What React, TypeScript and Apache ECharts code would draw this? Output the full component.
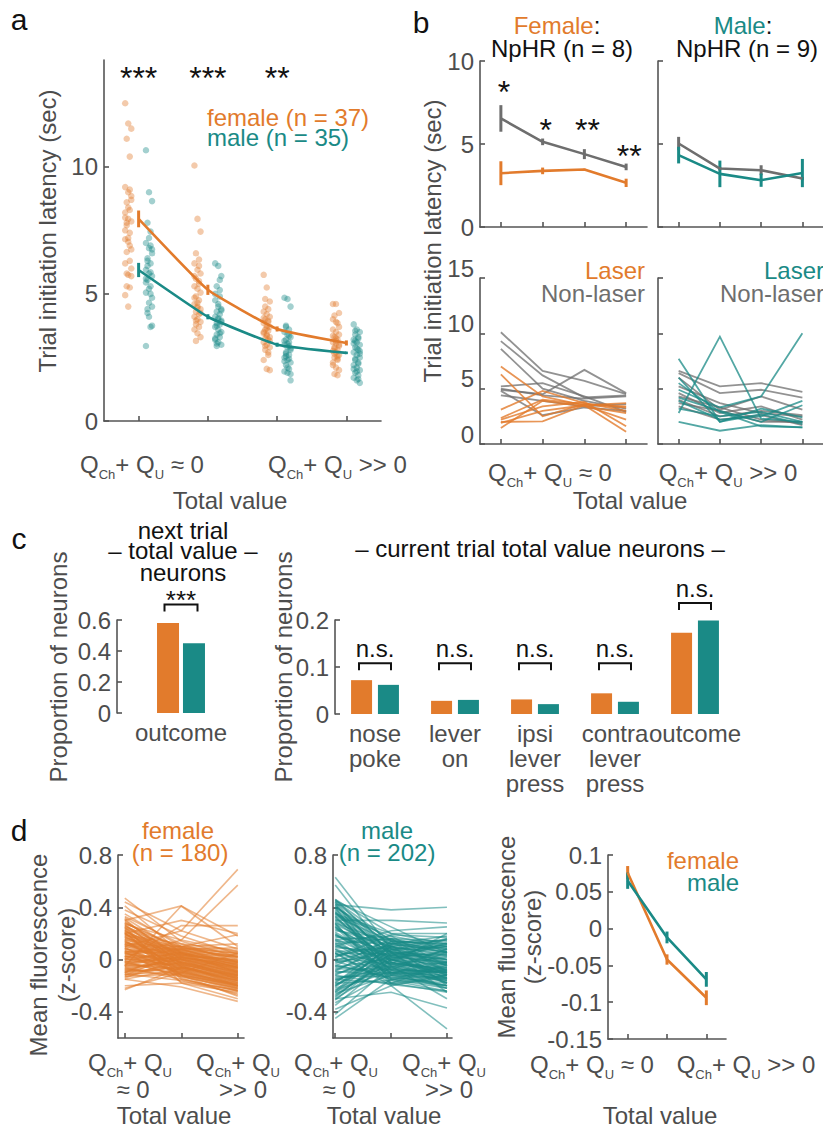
import React, { useEffect, useRef } from 'react';
import * as echarts from 'echarts';

const FONT = '"Liberation Sans", Arial, Helvetica, sans-serif';
const ORANGE = '#E27B2C';
const TEAL = '#1A8A86';
const GRAY = '#6E6E6E';
const AXIS = '#555555';
const TXT = '#4D4D4D';
const BLACK = '#111111';

// ---------- Panel a ----------
const aCats = [1, 2, 3, 4];
const aFemaleMean = [7.95, 5.16, 3.62, 3.07];
const aFemaleSem = [0.33, 0.2, 0.1, 0.1];
const aMaleMean = [5.94, 4.1, 3.0, 2.68];
const aMaleSem = [0.28, 0.1, 0.08, 0.05];
const aSig = ['***', '***', '**'];
const aSigLevel = [13.75, 13.75, 13.75];
const aFemaleDots = [
  [12.5, 11.7, 11.5, 11.1, 10.4, 9.2, 9.0, 8.85, 8.6, 8.3, 8.2, 7.95, 7.85, 7.8, 7.4, 7.15, 7.05, 6.75, 6.65, 6.3, 6.2, 5.75, 5.7, 5.3, 5.25, 4.95, 4.5, 8.7, 7.7, 6.9, 8.0, 7.2, 6.0, 5.8, 9.1, 7.5, 8.4],
  [10.05, 7.95, 7.45, 6.6, 6.35, 6.2, 5.95, 5.8, 5.6, 5.5, 5.3, 5.2, 5.05, 4.9, 4.75, 4.6, 4.5, 4.4, 4.3, 4.2, 4.1, 4.0, 3.9, 3.8, 3.7, 3.6, 3.45, 3.3, 3.15, 5.4, 4.85, 4.65, 4.25, 3.95, 6.1, 5.7, 4.45],
  [5.75, 5.25, 4.7, 4.5, 4.4, 4.3, 4.2, 4.1, 4.0, 3.9, 3.85, 3.75, 3.7, 3.6, 3.55, 3.5, 3.4, 3.3, 3.25, 3.2, 3.1, 3.0, 2.9, 2.8, 2.6, 2.4, 2.05, 2.0, 4.8, 3.95, 3.45, 3.35, 3.15, 2.95, 2.7, 4.05, 3.65],
  [4.6, 4.6, 4.25, 4.15, 3.85, 3.6, 3.5, 3.4, 3.3, 3.2, 3.1, 3.05, 3.0, 2.9, 2.8, 2.75, 2.7, 2.6, 2.5, 2.4, 2.3, 2.1, 2.0, 1.85, 1.8, 3.35, 3.15, 2.95, 2.65, 2.55, 2.2, 3.9, 3.7, 2.85, 2.45, 4.0, 3.25],
];
const aMaleDots = [
  [10.65, 9.0, 8.65, 7.8, 7.45, 7.0, 6.8, 6.75, 6.4, 6.2, 5.95, 5.8, 5.7, 5.55, 5.3, 5.05, 4.65, 4.5, 4.25, 3.7, 2.95, 7.2, 6.6, 6.1, 5.85, 5.45, 5.2, 4.85, 4.4, 6.9, 5.6, 4.1, 3.75, 6.3, 5.0],
  [6.2, 6.1, 5.7, 5.3, 5.15, 4.75, 4.5, 4.4, 4.3, 4.2, 4.1, 4.0, 3.95, 3.85, 3.8, 3.7, 3.6, 3.5, 3.4, 3.3, 3.2, 3.1, 3.0, 2.95, 5.55, 5.0, 4.6, 4.35, 3.75, 3.45, 3.25, 4.05, 3.9, 3.05, 4.9],
  [4.85, 4.8, 4.5, 3.75, 3.6, 3.5, 3.4, 3.3, 3.2, 3.1, 3.0, 2.9, 2.8, 2.7, 2.6, 2.5, 2.4, 2.3, 2.2, 2.05, 1.95, 1.9, 1.6, 3.7, 3.35, 3.15, 3.05, 2.85, 2.65, 2.45, 2.35, 2.1, 1.85, 2.55, 2.95],
  [3.8, 3.6, 3.5, 3.4, 3.3, 3.2, 3.1, 3.0, 2.9, 2.8, 2.7, 2.6, 2.5, 2.4, 2.3, 2.2, 2.1, 2.0, 1.9, 1.8, 1.7, 1.6, 1.5, 3.55, 3.25, 3.05, 2.85, 2.65, 2.45, 2.25, 2.05, 1.95, 2.75, 3.15, 1.65],
];

// ---------- Panel b ----------
const bCats = [1, 2, 3, 4];
const bFemaleNonLaser = [6.54, 5.13, 4.39, 3.62];
const bFemaleNonLaserSem = [0.8, 0.2, 0.3, 0.2];
const bFemaleLaser = [3.24, 3.38, 3.46, 2.66];
const bFemaleLaserSem = [0.72, 0.2, 0.05, 0.25];
const bMaleNonLaser = [5.03, 3.52, 3.42, 2.92];
const bMaleNonLaserSem = [0.4, 0.1, 0.3, 0.1];
const bMaleLaser = [4.33, 3.2, 2.82, 3.25];
const bMaleLaserSem = [0.5, 0.8, 0.4, 0.85];
const bSig = ['*', '*', '**', '**'];
const bSigLevel = [8.55, 6.27, 6.27, 4.7];
const bFemaleNonLaserInd = [
  [10.1, 6.6, 5.7, 4.5],
  [9.3, 6.2, 4.2, 4.4],
  [8.6, 5.0, 3.9, 3.2],
  [5.2, 5.5, 4.3, 2.9],
  [4.9, 4.5, 6.7, 4.6],
  [5.0, 4.4, 4.1, 4.3],
  [4.4, 3.9, 3.4, 3.6],
  [4.8, 2.6, 3.3, 3.0],
];
const bFemaleLaserInd = [
  [7.0, 4.3, 3.5, 2.2],
  [6.3, 2.5, 3.6, 3.4],
  [3.1, 4.8, 3.7, 3.0],
  [2.35, 4.0, 3.6, 3.3],
  [2.2, 3.4, 3.8, 1.6],
  [2.0, 2.05, 3.5, 1.1],
  [1.9, 3.0, 3.5, 3.7],
  [1.45, 3.9, 3.4, 2.8],
];
const bMaleNonLaserInd = [
  [6.6, 5.2, 5.5, 4.7],
  [6.4, 4.6, 4.9, 4.2],
  [6.0, 3.1, 4.3, 3.1],
  [5.2, 3.7, 2.8, 2.5],
  [4.6, 2.8, 3.4, 2.2],
  [4.3, 3.3, 2.2, 1.9],
  [4.0, 2.5, 3.0, 2.6],
  [3.7, 3.0, 2.0, 2.0],
  [3.4, 2.2, 2.6, 1.7],
];
const bMaleLaserInd = [
  [7.7, 2.0, 3.2, 2.4],
  [2.8, 9.7, 2.3, 2.0],
  [4.9, 3.3, 4.3, 10.0],
  [2.0, 1.2, 1.7, 1.5],
  [3.9, 2.2, 2.5, 3.9],
  [5.5, 2.9, 1.6, 1.5],
  [4.2, 3.0, 2.0, 3.5],
  [3.2, 2.5, 2.9, 2.0],
  [6.0, 2.0, 2.7, 1.8],
];

// ---------- Panel c ----------
const cNextCats = ['outcome'];
const cNextFemale = [0.58];
const cNextMale = [0.45];
const cNextSig = ['***'];
const cNextBracket = [0.7];
const cCurCats = ['nose\npoke', 'lever\non', 'ipsi\nlever\npress', 'contra\nlever\npress', 'outcome'];
const cCurFemale = [0.072, 0.028, 0.031, 0.044, 0.173];
const cCurMale = [0.062, 0.03, 0.021, 0.026, 0.199];
const cCurSig = ['n.s.', 'n.s.', 'n.s.', 'n.s.', 'n.s.'];
const cCurBracket = [0.108, 0.108, 0.108, 0.108, 0.236];

// ---------- Panel d ----------
const dCats = [1, 2, 3];
const dFemaleMean = [0.076, -0.042, -0.094];
const dFemaleSem = [0.009, 0.007, 0.01];
const dMaleMean = [0.065, -0.012, -0.069];
const dMaleSem = [0.011, 0.008, 0.01];
const dFemaleInd = [
  [0.47, 0.14, 0.02], [0.44, 0.22, 0.08], [0.41, 0.05, -0.06], [0.38, 0.18, 0.04], [0.35, 0.1, 0.19],
  [0.1, 0.22, 0.69], [0.02, 0.15, 0.57], [0.3, 0.41, 0.1], [-0.05, 0.41, 0.18], [0.0, 0.26, 0.26],
  [0.2, 0.3, 0.2], [-0.23, -0.06, -0.12], [-0.2, -0.18, -0.3], [-0.15, -0.21, -0.32], [0.2, -0.14, -0.27],
  [0.25, -0.18, -0.25], [-0.22, -0.1, 0.05],
  [0.32, 0.05, -0.1], [0.3, 0.0, -0.15], [0.28, 0.08, -0.05], [0.26, -0.02, -0.12], [0.25, 0.1, 0.0],
  [0.24, 0.03, -0.08], [0.22, -0.05, -0.18], [0.21, 0.06, -0.02], [0.2, 0.0, -0.1], [0.18, -0.08, -0.2],
  [0.17, 0.04, -0.06], [0.16, -0.03, -0.14], [0.15, 0.07, 0.03], [0.14, -0.1, -0.22], [0.13, 0.02, -0.09],
  [0.12, -0.06, -0.16], [0.11, 0.05, -0.04], [0.1, -0.02, -0.11], [0.09, -0.12, -0.24], [0.08, 0.03, -0.07],
  [0.07, -0.04, -0.13], [0.06, 0.08, 0.05], [0.05, -0.07, -0.18], [0.04, 0.0, -0.1], [0.03, -0.1, -0.2],
  [0.02, 0.04, -0.03], [0.01, -0.05, -0.15], [0.0, -0.01, -0.08], [-0.01, -0.13, -0.22], [-0.02, 0.02, -0.05],
  [-0.03, -0.08, -0.17], [-0.04, 0.06, 0.02], [-0.05, -0.03, -0.12], [-0.06, -0.15, -0.24], [-0.07, 0.0, -0.06],
  [-0.08, -0.09, -0.19], [-0.09, 0.03, 0.0], [-0.1, -0.06, -0.14], [-0.11, -0.16, -0.26], [-0.12, -0.02, -0.09],
  [-0.13, -0.11, -0.21], [-0.14, 0.01, -0.03], [-0.15, -0.07, -0.16], [0.19, 0.12, 0.07], [0.27, 0.15, 0.06],
  [0.23, -0.12, -0.28], [0.12, 0.1, 0.12], [-0.1, 0.08, 0.09], [0.33, 0.12, -0.02], [0.06, -0.17, -0.23],
  [0.29, 0.02, -0.07], [0.27, -0.06, -0.16], [0.24, 0.07, -0.01], [0.22, 0.01, -0.11], [0.2, -0.09, -0.21],
  [0.19, 0.05, -0.04], [0.17, -0.01, -0.12], [0.16, 0.09, 0.01], [0.14, -0.05, -0.17], [0.13, 0.06, -0.06],
  [0.12, -0.02, -0.13], [0.1, 0.04, -0.02], [0.09, -0.08, -0.19], [0.08, 0.01, -0.09], [0.07, -0.11, -0.23],
  [0.06, 0.05, -0.01], [0.05, -0.03, -0.11], [0.04, 0.07, 0.03], [0.03, -0.06, -0.15], [0.02, 0.0, -0.07],
  [0.01, -0.09, -0.2], [0.0, 0.05, -0.02], [-0.01, -0.04, -0.13], [-0.02, -0.12, -0.2], [-0.03, 0.02, -0.06],
  [-0.04, -0.07, -0.16], [-0.05, 0.04, -0.01], [-0.06, -0.02, -0.1], [-0.07, -0.13, -0.22], [-0.08, 0.01, -0.05],
  [-0.09, -0.06, -0.14], [-0.1, 0.02, -0.04], [-0.11, -0.1, -0.18], [-0.12, 0.05, 0.02], [-0.13, -0.04, -0.12],
  [0.28, 0.09, 0.02], [0.26, 0.04, -0.09], [0.23, -0.03, -0.14], [0.18, 0.1, 0.04], [0.15, -0.12, -0.19],
  [0.11, 0.08, -0.03], [0.05, 0.1, 0.06], [-0.02, 0.09, 0.05], [0.31, -0.04, -0.2], [0.21, -0.15, -0.24],
];
const dMaleInd = [
  [0.63, 0.08, -0.02], [0.57, 0.02, -0.1], [0.46, 0.2, 0.12], [0.45, 0.25, 0.05], [0.42, 0.38, 0.4],
  [0.3, 0.3, 0.28], [0.1, 0.22, 0.25], [-0.45, -0.15, -0.2], [-0.42, -0.05, -0.3], [-0.38, -0.2, -0.12],
  [-0.3, -0.25, -0.37], [0.05, -0.2, -0.53], [-0.2, 0.1, 0.15], [0.4, -0.18, -0.25],
  [0.44, 0.1, -0.05], [0.42, 0.0, -0.12], [0.4, 0.15, 0.05], [0.38, -0.05, -0.15], [0.36, 0.08, 0.0],
  [0.34, 0.18, 0.1], [0.32, -0.02, -0.08], [0.3, 0.05, -0.18], [0.28, 0.12, 0.15], [0.26, -0.08, -0.1],
  [0.24, 0.02, -0.02], [0.22, 0.16, 0.08], [0.2, -0.1, -0.2], [0.18, 0.06, 0.02], [0.16, -0.04, -0.06],
  [0.14, 0.12, 0.18], [0.12, -0.12, -0.14], [0.1, 0.03, -0.04], [0.08, -0.06, -0.22], [0.06, 0.09, 0.06],
  [0.04, -0.02, -0.1], [0.02, 0.14, 0.12], [0.0, -0.08, -0.16], [-0.02, 0.05, 0.0], [-0.04, -0.14, -0.08],
  [-0.06, 0.01, -0.12], [-0.08, 0.1, 0.04], [-0.1, -0.05, -0.18], [-0.12, 0.07, 0.1], [-0.14, -0.1, -0.06],
  [-0.16, 0.0, -0.14], [-0.18, -0.16, -0.24], [-0.2, 0.04, -0.02], [-0.22, -0.07, -0.1], [-0.24, 0.12, 0.06],
  [-0.26, -0.12, -0.2], [-0.28, 0.02, -0.06], [-0.3, -0.04, 0.02], [0.43, -0.12, -0.08], [0.35, 0.2, 0.2],
  [0.25, -0.15, -0.22], [0.15, 0.18, -0.05], [0.05, -0.18, -0.12], [-0.05, 0.16, 0.14], [-0.15, -0.18, -0.04],
  [-0.25, 0.08, -0.15], [0.33, -0.08, 0.08], [0.11, 0.0, 0.16], [-0.09, -0.12, 0.06], [0.27, 0.06, -0.25],
  [0.19, -0.03, 0.2], [-0.01, 0.11, -0.2], [0.39, 0.03, 0.12], [-0.33, -0.1, -0.02], [-0.35, 0.0, -0.1],
  [0.46, 0.05, 0.0],
  [0.41, 0.06, -0.03], [0.37, -0.1, -0.12], [0.33, 0.14, 0.07], [0.29, 0.0, -0.09], [0.27, -0.14, -0.18],
  [0.23, 0.1, 0.03], [0.21, -0.04, -0.13], [0.17, 0.15, 0.1], [0.13, -0.07, -0.1], [0.09, 0.06, -0.01],
  [0.07, -0.1, -0.17], [0.03, 0.11, 0.08], [0.01, -0.03, -0.07], [-0.03, 0.08, 0.11], [-0.07, -0.08, -0.14],
  [-0.11, 0.03, -0.03], [-0.13, -0.13, -0.2], [-0.17, 0.06, 0.03], [-0.19, -0.02, -0.11], [-0.21, 0.1, 0.0],
  [-0.23, -0.09, -0.16], [-0.27, 0.0, -0.04], [-0.29, 0.05, -0.08], [0.44, -0.02, -0.16], [0.4, 0.12, 0.09],
  [0.36, -0.06, -0.02], [0.31, 0.09, -0.12], [0.19, 0.01, 0.06], [0.15, -0.11, -0.07], [0.05, 0.04, 0.1],
  [-0.01, -0.15, -0.12], [-0.09, 0.13, 0.05], [-0.15, -0.06, 0.08], [-0.25, -0.03, -0.18], [0.12, 0.16, -0.09],
  [0.25, -0.01, 0.13], [-0.05, -0.11, -0.22], [0.35, 0.07, 0.16], [-0.31, 0.03, 0.04], [0.08, -0.16, -0.03],
  [0.45, 0.14, -0.1], [0.02, 0.19, 0.17], [-0.18, 0.14, 0.12], [0.28, -0.19, -0.14], [-0.12, -0.19, -0.24],
];

// ---------- helpers ----------
function rgba(hex: string, a: number) {
  const n = parseInt(hex.slice(1), 16);
  return `rgba(${(n >> 16) & 255},${(n >> 8) & 255},${n & 255},${a})`;
}

const axisLineStyle = { color: AXIS, width: 1.6 };

function valueX(gridIndex: number, min: number, max: number, ticks: number[]) {
  return {
    type: 'value', gridIndex, min, max,
    axisLine: { show: true, onZero: false, lineStyle: axisLineStyle },
    axisTick: { show: true, inside: true, length: 5, lineStyle: axisLineStyle, customValues: ticks },
    axisLabel: { show: false },
    splitLine: { show: false },
  };
}
function catX(gridIndex: number, data: string[]) {
  return {
    type: 'category', gridIndex, data,
    axisLine: { show: false }, axisTick: { show: false },
    axisLabel: { interval: 0, color: TXT, fontSize: 24, fontFamily: FONT, lineHeight: 25, margin: 7 },
    splitLine: { show: false },
  };
}
function fmt(v: number) {
  if (Math.abs(v) < 1e-9) return '0';
  return String(parseFloat(v.toFixed(3)));
}
function valueY(gridIndex: number, min: number, max: number, ticks: number[], showLabels = true, extra: any = {}) {
  return {
    type: 'value', gridIndex, min, max,
    axisLine: { show: true, onZero: false, lineStyle: axisLineStyle },
    axisTick: { show: true, inside: true, length: 5, lineStyle: axisLineStyle, customValues: ticks },
    axisLabel: { show: showLabels, customValues: ticks, formatter: fmt, color: TXT, fontSize: 24, fontFamily: FONT, margin: 6, ...extra },
    splitLine: { show: false },
  };
}

function polySeries(gi: number, rows: number[][], color: string, width: number) {
  return {
    type: 'custom', coordinateSystem: 'cartesian2d', xAxisIndex: gi, yAxisIndex: gi,
    silent: true, clip: false,
    data: rows,
    renderItem: (params: any, api: any) => {
      const row = rows[params.dataIndex];
      const pts = row.map((v, i) => api.coord([i + 1, v]));
      return { type: 'polyline', shape: { points: pts }, style: { stroke: color, lineWidth: width, fill: 'none' } };
    },
  };
}
function errSeries(gi: number, cats: number[], mean: number[], sem: number[], color: string, width = 3) {
  const data = cats.map((c, i) => [c, mean[i] - sem[i], mean[i] + sem[i]]);
  return {
    type: 'custom', coordinateSystem: 'cartesian2d', xAxisIndex: gi, yAxisIndex: gi,
    silent: true, clip: false, data,
    renderItem: (params: any, api: any) => {
      const d = data[params.dataIndex];
      const p1 = api.coord([d[0], d[1]]);
      const p2 = api.coord([d[0], d[2]]);
      return { type: 'line', shape: { x1: p1[0], y1: p1[1], x2: p2[0], y2: p2[1] }, style: { stroke: color, lineWidth: width } };
    },
  };
}
function lineSeries(gi: number, cats: number[], vals: number[], color: string, width = 2.6, smooth: any = false) {
  return {
    type: 'line', xAxisIndex: gi, yAxisIndex: gi, silent: true,
    data: cats.map((c, i) => [c, vals[i]]),
    symbol: 'none', smooth,
    lineStyle: { color, width },
    itemStyle: { color },
  };
}
function sigSeries(gi: number, cats: number[], levels: number[], labels: string[], fontSize: number, dx: number, dy: number) {
  const data = labels.map((_, i) => [cats[i], levels[i]]);
  return {
    type: 'custom', coordinateSystem: 'cartesian2d', xAxisIndex: gi, yAxisIndex: gi,
    silent: true, clip: false, data,
    renderItem: (params: any, api: any) => {
      const d = data[params.dataIndex];
      const p = api.coord(d);
      return {
        type: 'text', x: p[0] + dx, y: p[1] + dy,
        style: { text: labels[params.dataIndex], fill: BLACK, fontSize, fontFamily: FONT, lineHeight: 18, align: 'center', verticalAlign: 'middle', textAlign: 'center', textVerticalAlign: 'middle' },
      };
    },
  };
}
function bracketSeries(gi: number, levels: number[], labels: string[], half: number, leg: number, fontSize: number, textDy: number) {
  const data = levels.map((l, i) => [i, l]);
  return {
    type: 'custom', coordinateSystem: 'cartesian2d', xAxisIndex: gi, yAxisIndex: gi,
    silent: true, clip: false, data,
    renderItem: (params: any, api: any) => {
      const d = data[params.dataIndex];
      const p = api.coord(d);
      return {
        type: 'group',
        children: [
          { type: 'polyline', shape: { points: [[p[0] - half, p[1] + leg], [p[0] - half, p[1]], [p[0] + half, p[1]], [p[0] + half, p[1] + leg]] }, style: { stroke: BLACK, lineWidth: 2, fill: 'none' } },
          { type: 'text', x: p[0], y: p[1] + textDy, style: { text: labels[params.dataIndex], fill: BLACK, fontSize, fontFamily: FONT, lineHeight: 18, align: 'center', verticalAlign: 'middle', textAlign: 'center', textVerticalAlign: 'middle' } },
        ],
      };
    },
  };
}
function dotData(groups: number[][], offset: number) {
  const out: number[][] = [];
  groups.forEach((vals, k) => {
    vals.forEach((v, i) => {
      const jitter = (((i * 7) % 5) - 2) * 0.022;
      out.push([aCats[k] + offset + jitter, v]);
    });
  });
  return out;
}

// ---------- graphic text helpers ----------
function txt(text: string, x: number, y: number, fill: string, opts: any = {}) {
  const { align = 'center', size = 24, rotation = 0, rich, lineHeight = 20 } = opts;
  return {
    type: 'text', x, y, rotation, silent: true,
    style: {
      text, fill, fontSize: size, fontFamily: FONT, lineHeight,
      align, verticalAlign: 'middle', textAlign: align, textVerticalAlign: 'middle',
      rich,
    },
  };
}
const qRich = (fill: string) => ({
  m: { fontSize: 24, fontFamily: FONT, fill, lineHeight: 20, verticalAlign: 'top' },
  s: { fontSize: 13, fontFamily: FONT, fill, lineHeight: 6, padding: [16, 0, 0, 0], verticalAlign: 'top' },
});
function qLabel(suffix: string, x: number, y: number, align = 'center') {
  return txt(`{m|Q}{s|Ch}{m|+ Q}{s|U}{m|${suffix}}`, x, y, TXT, { align, rich: qRich(TXT) });
}

function buildOption() {
  const grids = [
    { left: 104, top: 60, width: 277, height: 361 },
    { left: 480, top: 61, width: 167, height: 166 },
    { left: 658, top: 61, width: 167, height: 166 },
    { left: 480, top: 278, width: 167, height: 166 },
    { left: 658, top: 278, width: 167, height: 166 },
    { left: 117, top: 620, width: 128, height: 93 },
    { left: 335, top: 620, width: 400, height: 94 },
    { left: 118, top: 855, width: 126, height: 183 },
    { left: 333, top: 855, width: 119, height: 183 },
    { left: 608, top: 855, width: 118, height: 184 },
  ].map((g) => ({ ...g, containLabel: false }));

  const xAxis = [
    valueX(0, 0.5, 4.5, aCats),
    valueX(1, 0.5, 4.5, bCats),
    valueX(2, 0.5, 4.5, bCats),
    valueX(3, 0.5, 4.5, bCats),
    valueX(4, 0.5, 4.5, bCats),
    catX(5, cNextCats),
    catX(6, cCurCats),
    valueX(7, 0.88, 3.11, dCats),
    valueX(8, 0.96, 3.09, dCats),
    valueX(9, 0.5, 3.5, dCats),
  ];
  const yAxis = [
    valueY(0, 0, 14.2, [0, 5, 10]),
    valueY(1, 0, 10, [0, 5, 10]),
    valueY(2, 0, 10, [0, 5, 10], false),
    valueY(3, 0, 15, [0, 5, 10, 15], true, { verticalAlign: 'bottom', lineHeight: 20 }),
    valueY(4, 0, 15, [0, 5, 10, 15], false),
    valueY(5, 0, 0.6, [0, 0.2, 0.4, 0.6]),
    valueY(6, 0, 0.2, [0, 0.1, 0.2]),
    valueY(7, -0.6, 0.8, [-0.4, 0, 0.4, 0.8]),
    valueY(8, -0.6, 0.8, [-0.4, 0, 0.4, 0.8]),
    valueY(9, -0.15, 0.1, [-0.15, -0.1, -0.05, 0, 0.05, 0.1]),
  ];

  const series: any[] = [
    // a
    { type: 'scatter', xAxisIndex: 0, yAxisIndex: 0, silent: true, data: dotData(aFemaleDots, -0.15), symbolSize: 6.5, itemStyle: { color: rgba(ORANGE, 0.5) } },
    { type: 'scatter', xAxisIndex: 0, yAxisIndex: 0, silent: true, data: dotData(aMaleDots, 0.15), symbolSize: 6.5, itemStyle: { color: rgba(TEAL, 0.5) } },
    lineSeries(0, aCats, aFemaleMean, ORANGE, 2.6, 0.12),
    lineSeries(0, aCats, aMaleMean, TEAL, 2.6, 0.12),
    errSeries(0, aCats, aFemaleMean, aFemaleSem, ORANGE),
    errSeries(0, aCats, aMaleMean, aMaleSem, TEAL),
    sigSeries(0, aCats, aSigLevel, aSig, 32, 0, 7),
    // b top
    lineSeries(1, bCats, bFemaleNonLaser, GRAY),
    lineSeries(1, bCats, bFemaleLaser, ORANGE),
    errSeries(1, bCats, bFemaleNonLaser, bFemaleNonLaserSem, GRAY),
    errSeries(1, bCats, bFemaleLaser, bFemaleLaserSem, ORANGE),
    sigSeries(1, bCats, bSigLevel, bSig, 32, 3, 7),
    lineSeries(2, bCats, bMaleNonLaser, GRAY),
    errSeries(2, bCats, bMaleNonLaser, bMaleNonLaserSem, GRAY),
    lineSeries(2, bCats, bMaleLaser, TEAL),
    errSeries(2, bCats, bMaleLaser, bMaleLaserSem, TEAL),
    // b bottom
    polySeries(3, bFemaleNonLaserInd, rgba(GRAY, 0.75), 1.8),
    polySeries(3, bFemaleLaserInd, rgba(ORANGE, 0.8), 1.8),
    polySeries(4, bMaleNonLaserInd, rgba(GRAY, 0.75), 1.8),
    polySeries(4, bMaleLaserInd, rgba(TEAL, 0.75), 1.8),
    // c
    { type: 'bar', xAxisIndex: 5, yAxisIndex: 5, silent: true, data: cNextFemale, barWidth: 22, barGap: '18%', itemStyle: { color: ORANGE } },
    { type: 'bar', xAxisIndex: 5, yAxisIndex: 5, silent: true, data: cNextMale, barWidth: 22, barGap: '18%', itemStyle: { color: TEAL } },
    bracketSeries(5, cNextBracket, cNextSig, 16.5, 7, 26, -5),
    { type: 'bar', xAxisIndex: 6, yAxisIndex: 6, silent: true, data: cCurFemale, barWidth: 21, barGap: '28%', itemStyle: { color: ORANGE } },
    { type: 'bar', xAxisIndex: 6, yAxisIndex: 6, silent: true, data: cCurMale, barWidth: 21, barGap: '28%', itemStyle: { color: TEAL } },
    bracketSeries(6, cCurBracket, cCurSig, 16, 7, 24, -15),
    // d
    polySeries(7, dFemaleInd, rgba(ORANGE, 0.55), 1.6),
    polySeries(8, dMaleInd, rgba(TEAL, 0.55), 1.6),
    lineSeries(9, dCats, dFemaleMean, ORANGE),
    errSeries(9, dCats, dFemaleMean, dFemaleSem, ORANGE),
    lineSeries(9, dCats, dMaleMean, TEAL),
    errSeries(9, dCats, dMaleMean, dMaleSem, TEAL),
  ];

  const graphic: any[] = [
    // panel letters
    txt('a', 19, 19, BLACK, { size: 30 }),
    txt('b', 421, 22, BLACK, { size: 30 }),
    txt('c', 19, 538, BLACK, { size: 30 }),
    txt('d', 19, 830, BLACK, { size: 30 }),
    // panel a
    txt('Trial initiation latency (sec)', 47, 231, TXT, { rotation: Math.PI / 2 }),
    txt('female (n = 37)', 207, 117, ORANGE, { align: 'left' }),
    txt('male (n = 35)', 207, 137, TEAL, { align: 'left' }),
    qLabel(' \u2248 0', 142, 462),
    qLabel(' >> 0', 268, 462, 'left'),
    txt('Total value', 230, 500, TXT),
    // panel b
    txt('{o|Female}{k|:}', 557, 25, BLACK, { rich: { o: { fill: ORANGE, fontSize: 24, fontFamily: FONT, lineHeight: 20 }, k: { fill: BLACK, fontSize: 24, fontFamily: FONT, lineHeight: 20 } } }),
    txt('NpHR (n = 8)', 562, 48, BLACK),
    txt('{o|Male}{k|:}', 743, 25, BLACK, { rich: { o: { fill: TEAL, fontSize: 24, fontFamily: FONT, lineHeight: 20 }, k: { fill: BLACK, fontSize: 24, fontFamily: FONT, lineHeight: 20 } } }),
    txt('NpHR (n = 9)', 747, 48, BLACK),
    txt('Trial initiation latency (sec)', 432, 241, TXT, { rotation: Math.PI / 2 }),
    txt('Laser', 645, 270, ORANGE, { align: 'right' }),
    txt('Non-laser', 645, 293, GRAY, { align: 'right' }),
    txt('Laser', 824, 270, TEAL, { align: 'right' }),
    txt('Non-laser', 824, 293, GRAY, { align: 'right' }),
    qLabel(' \u2248 0', 550, 470),
    qLabel(' >> 0', 728, 470),
    txt('Total value', 630, 500, TXT),
    // panel c
    txt('next trial', 183, 530, BLACK),
    txt('\u2013 total value \u2013', 183, 550, BLACK),
    txt('neurons', 183, 572, BLACK),
    txt('\u2013 current trial total value neurons \u2013', 540, 548, BLACK),
    txt('Proportion of neurons', 58, 667, TXT, { rotation: Math.PI / 2 }),
    txt('Proportion of neurons', 283, 667, TXT, { rotation: Math.PI / 2 }),
    // panel d
    txt('female', 178, 830, ORANGE),
    txt('(n = 180)', 180, 852, ORANGE),
    txt('male', 387, 830, TEAL),
    txt('(n = 202)', 387, 852, TEAL),
    txt('Mean fluorescence', 38, 955, TXT, { rotation: Math.PI / 2 }),
    txt('(z-score)', 66, 955, TXT, { rotation: Math.PI / 2 }),
    txt('Mean fluorescence', 506, 937, TXT, { rotation: Math.PI / 2 }),
    txt('(z-score)', 532, 937, TXT, { rotation: Math.PI / 2 }),
    txt('female', 739, 860, ORANGE, { align: 'right' }),
    txt('male', 739, 882, TEAL, { align: 'right' }),
    qLabel('', 130, 1060),
    txt('\u2248 0', 133, 1089, TXT),
    qLabel('', 238, 1060),
    txt('>> 0', 243, 1089, TXT),
    qLabel('', 336, 1060),
    txt('\u2248 0', 339, 1089, TXT),
    qLabel('', 444, 1060),
    txt('>> 0', 449, 1089, TXT),
    txt('Total value', 174, 1115, TXT),
    txt('Total value', 384, 1115, TXT),
    qLabel(' \u2248 0', 592, 1062),
    qLabel(' >> 0', 746, 1062),
    txt('Total value', 660, 1115, TXT),
  ];

  return {
    animation: false,
    backgroundColor: '#ffffff',
    textStyle: { fontFamily: FONT },
    grid: grids,
    xAxis,
    yAxis,
    series,
    graphic: { elements: graphic },
  };
}

export default function App() {
  const ref = useRef<HTMLDivElement>(null);
  useEffect(() => {
    if (!ref.current) return;
    const chart = echarts.init(ref.current, null, { renderer: 'svg' });
    chart.setOption(buildOption() as any);
    return () => chart.dispose();
  }, []);
  return (
    <div
      ref={ref}
      style={{ position: 'absolute', left: 0, top: 0, width: 823, height: 1128, background: '#ffffff' }}
    />
  );
}
